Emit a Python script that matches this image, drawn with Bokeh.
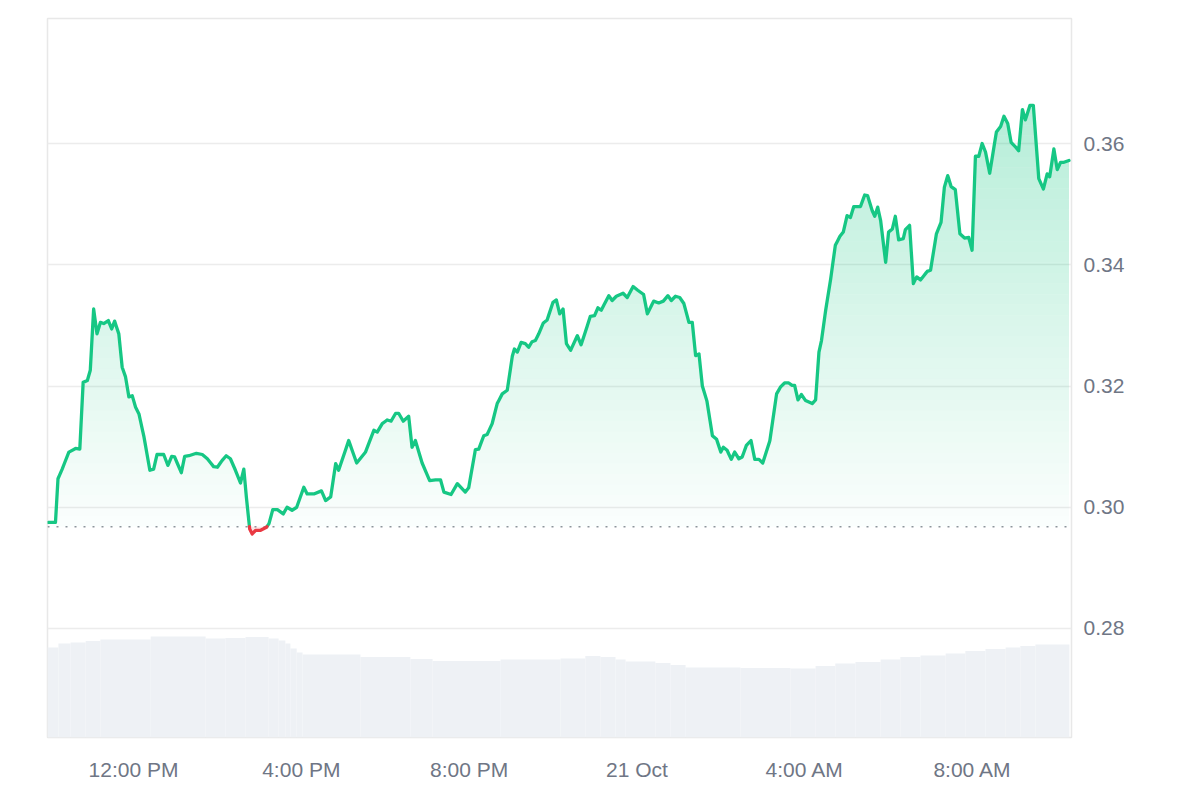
import numpy as np
from bokeh.plotting import figure
from bokeh.models import Range1d, FixedTicker, Span, CustomJSTickFormatter, NumeralTickFormatter
from bokeh.embed import file_html
from bokeh.resources import INLINE

# ---------------- data ----------------
# hours since 20 Oct 00:00
hours = [
    9.97, 10.14, 10.20, 10.30, 10.46, 10.62, 10.72, 10.80, 10.90, 10.97,
    11.05, 11.13, 11.21, 11.29, 11.40, 11.48, 11.55, 11.65, 11.73, 11.81,
    11.89, 11.97, 12.05, 12.13, 12.25, 12.39, 12.48, 12.56, 12.72, 12.82,
    12.91, 12.98, 13.14, 13.22, 13.32, 13.50, 13.64, 13.76, 13.91, 14.00,
    14.11, 14.21, 14.31, 14.43, 14.55, 14.63, 14.69, 14.77, 14.83, 14.91,
    15.03, 15.17, 15.23, 15.32, 15.43, 15.57, 15.66, 15.78, 15.89, 16.06,
    16.14, 16.30, 16.48, 16.58, 16.70, 16.82, 16.89, 17.13, 17.32, 17.53,
    17.73, 17.81, 17.93, 18.05, 18.14, 18.25, 18.32, 18.43, 18.56, 18.64,
    18.72, 18.88, 19.06, 19.20, 19.32, 19.40, 19.57, 19.72, 19.91, 19.99,
    20.15, 20.23, 20.35, 20.43, 20.55, 20.67, 20.79, 20.91, 21.03, 21.08,
    21.15, 21.24, 21.34, 21.42, 21.50, 21.58, 21.66, 21.77, 21.86, 22.00,
    22.08, 22.16, 22.24, 22.32, 22.42, 22.58, 22.67, 22.77, 22.89, 22.99,
    23.07, 23.15, 23.33, 23.41, 23.51, 23.67, 23.77, 23.91, 24.02, 24.16,
    24.25, 24.40, 24.52, 24.63, 24.74, 24.82, 24.92, 25.02, 25.12, 25.24,
    25.32, 25.40, 25.48, 25.56, 25.67, 25.80, 25.90, 26.00, 26.06, 26.15,
    26.25, 26.33, 26.43, 26.51, 26.61, 26.72, 26.81, 26.91, 27.00, 27.17,
    27.33, 27.42, 27.52, 27.62, 27.70, 27.76, 27.84, 27.92, 28.02, 28.18,
    28.26, 28.34, 28.40, 28.50, 28.62, 28.73, 28.84, 28.92, 29.01, 29.09,
    29.17, 29.33, 29.43, 29.50, 29.61, 29.67, 29.74, 29.81, 29.93, 30.00,
    30.09, 30.16, 30.24, 30.35, 30.40, 30.50, 30.59, 30.67, 30.76, 30.84,
    30.92, 31.00, 31.14, 31.25, 31.33, 31.41, 31.49, 31.59, 31.70, 31.81,
    31.91, 31.99, 32.07, 32.15, 32.23, 32.31, 32.41, 32.57, 32.67, 32.75,
    32.84, 32.92, 33.03, 33.10, 33.19, 33.26, 33.37, 33.45, 33.58, 33.69,
    33.78, 33.84, 33.94, 34.02, 34.10, 34.18, 34.30,
]

price = [
    0.2975, 0.2975, 0.3047, 0.3063, 0.3091, 0.3097, 0.3096, 0.3206, 0.3209, 0.3226,
    0.3327, 0.3286, 0.3305, 0.3303, 0.3308, 0.3294, 0.3307, 0.3286, 0.3231, 0.3215,
    0.3182, 0.3184, 0.3165, 0.3154, 0.3116, 0.3061, 0.3063, 0.3087, 0.3087, 0.3069,
    0.3084, 0.3083, 0.3057, 0.3084, 0.3085, 0.3089, 0.3087, 0.3080, 0.3067, 0.3066,
    0.3077, 0.3085, 0.3080, 0.3061, 0.3040, 0.3063, 0.3017, 0.2964, 0.2956, 0.2962,
    0.2962, 0.2967, 0.2973, 0.2996, 0.2996, 0.2989, 0.3000, 0.2995, 0.3000, 0.3033,
    0.3022, 0.3022, 0.3027, 0.3011, 0.3017, 0.3072, 0.3061, 0.3110, 0.3073, 0.3091,
    0.3127, 0.3124, 0.3138, 0.3144, 0.3142, 0.3155, 0.3155, 0.3142, 0.3150, 0.3099,
    0.3110, 0.3073, 0.3044, 0.3045, 0.3045, 0.3025, 0.3021, 0.3039, 0.3025, 0.3032,
    0.3095, 0.3096, 0.3118, 0.3120, 0.3138, 0.3171, 0.3187, 0.3193, 0.3249, 0.3261,
    0.3256, 0.3272, 0.3270, 0.3264, 0.3273, 0.3275, 0.3286, 0.3304, 0.3309, 0.3338,
    0.3342, 0.3319, 0.3327, 0.3270, 0.3259, 0.3283, 0.3268, 0.3289, 0.3315, 0.3316,
    0.3329, 0.3325, 0.3349, 0.3341, 0.3348, 0.3353, 0.3346, 0.3364, 0.3358, 0.3351,
    0.3319, 0.3340, 0.3337, 0.3340, 0.3349, 0.3341, 0.3348, 0.3346, 0.3336, 0.3305,
    0.3305, 0.3250, 0.3253, 0.3200, 0.3175, 0.3118, 0.3112, 0.3091, 0.3099, 0.3094,
    0.3079, 0.3091, 0.3080, 0.3083, 0.3102, 0.3110, 0.3079, 0.3079, 0.3073, 0.3110,
    0.3187, 0.3198, 0.3205, 0.3205, 0.3201, 0.3201, 0.3177, 0.3186, 0.3176, 0.3171,
    0.3177, 0.3256, 0.3275, 0.3325, 0.3377, 0.3432, 0.3447, 0.3454, 0.3481, 0.3478,
    0.3496, 0.3496, 0.3515, 0.3514, 0.3489, 0.3480, 0.3495, 0.3473, 0.3404, 0.3454,
    0.3459, 0.3480, 0.3441, 0.3443, 0.3458, 0.3465, 0.3369, 0.3380, 0.3375, 0.3382,
    0.3389, 0.3391, 0.3451, 0.3470, 0.3528, 0.3547, 0.3529, 0.3524, 0.3451, 0.3444,
    0.3445, 0.3424, 0.3579, 0.3579, 0.3600, 0.3586, 0.3551, 0.3619, 0.3628, 0.3645,
    0.3633, 0.3602, 0.3594, 0.3588, 0.3656, 0.3639, 0.3663, 0.3663, 0.3542, 0.3525,
    0.3550, 0.3545, 0.3591, 0.3557, 0.3569, 0.3569, 0.3572,
]

baseline_price = 0.2968   # opening price (dotted line)

# volume (relative units), step segments starting at these hours
vol_start = [9.95, 10.21, 10.50, 10.86, 11.21, 12.41, 13.72, 14.19, 14.67, 15.22,
             15.46, 15.62, 15.74, 15.89, 16.03, 17.41, 18.60, 19.13, 20.75, 22.18,
             22.77, 23.13, 23.49, 23.73, 24.44, 24.80, 25.16, 26.47, 27.66, 28.26,
             28.73, 29.21, 29.81, 30.28, 30.76, 31.36, 31.83, 32.31, 32.79, 33.14,
             33.50]
vol_value = [90, 94, 95, 96.5, 98, 101, 99, 99.5, 100.5, 99,
             97, 94, 89, 85, 83, 80.5, 78.5, 76.5, 78, 79,
             81.5, 80.5, 78, 76, 74.5, 72.5, 70, 69.5, 69, 71.5,
             74, 75.5, 78, 80.5, 82, 84, 86.5, 88.5, 90, 91.5,
             93]
vol_end = 34.31

tick_hours = [12, 16, 20, 24, 28, 32]
tick_labels = ["12:00 PM", "4:00 PM", "8:00 PM", "21 Oct", "4:00 AM", "8:00 AM"]
price_ticks = [0.28, 0.30, 0.32, 0.34, 0.36]

if len(hours) != len(price) or len(vol_start) != len(vol_value):
    raise ValueError("data length mismatch")

# ---------------- styling ----------------
GREEN = "#16c784"
RED = "#ea3943"
LABEL = "#6f7685"
FONT = "Liberation Sans"

p = figure(width=1200, height=800,
           x_range=Range1d(9.95, 34.36), y_range=Range1d(0.26202, 0.38062),
           y_axis_location="right", output_backend="svg", toolbar_location=None,
           min_border_left=47, min_border_right=129, min_border_top=18,
           min_border_bottom=63)
p.background_fill_color = "white"
p.border_fill_color = "white"
p.outline_line_color = "#e8e8e8"
p.outline_line_width = 1.5

# volume on its own hidden scale
p.extra_y_ranges = {"vol": Range1d(0, 719)}
p.quad(left=vol_start, right=vol_start[1:] + [vol_end], bottom=0, top=vol_value,
       y_range_name="vol", fill_color="#eef1f5", line_color=None)

# densify line with crossing points for gradient bands / colour split
xs = np.array(hours, dtype=float)
ys = np.array(price, dtype=float)
grad_top = 0.3665
N = 40
levels = np.linspace(baseline_price, grad_top, N + 1)
parts = [xs]
for lv in levels:
    d = ys - lv
    idx = np.where(d[:-1] * d[1:] < 0)[0]
    t = d[idx] / (d[idx] - d[idx + 1])
    parts.append(xs[idx] + t * (xs[idx + 1] - xs[idx]))
dx = np.unique(np.concatenate(parts))
dy = np.interp(dx, xs, ys)

for i in range(N):
    a, b = levels[i], levels[i + 1]
    mid = 0.5 * (a + b)
    alpha = 0.015 + 0.30 * (mid - baseline_price) / (grad_top - baseline_price)
    y2 = np.clip(dy, a, b)
    p.varea(x=dx, y1=np.full_like(dx, a), y2=y2, fill_color=GREEN, fill_alpha=alpha)

# red area below baseline
p.varea(x=dx, y1=np.minimum(dy, baseline_price), y2=np.full_like(dx, baseline_price),
        fill_color=RED, fill_alpha=0.12)

# dotted baseline
p.add_layout(Span(location=baseline_price, dimension="width", line_color="#8f949c",
                  line_width=1.5, line_dash="2 7", level="underlay"))

eps = 1e-12
g = np.where(dy >= baseline_price - eps, dy, np.nan)
r = np.where(dy <= baseline_price + eps, dy, np.nan)
p.line(dx, g, line_color=GREEN, line_width=3.3, line_join="round", line_cap="round")
p.line(dx, r, line_color=RED, line_width=3.3, line_join="round", line_cap="round")

# grid
p.xgrid.visible = False
p.ygrid.ticker = FixedTicker(ticks=price_ticks)
p.ygrid.grid_line_color = "#ececec"
p.ygrid.grid_line_width = 1.5

# axes
p.yaxis.ticker = FixedTicker(ticks=price_ticks)
p.yaxis.formatter = NumeralTickFormatter(format="0.00")
p.xaxis.ticker = FixedTicker(ticks=tick_hours)
p.xaxis.formatter = CustomJSTickFormatter(
    args=dict(tick_vals=tick_hours, tick_text=tick_labels),
    code="const i = tick_vals.indexOf(tick); return i >= 0 ? tick_text[i] : '';")
for ax in (p.xaxis[0], p.yaxis[0]):
    ax.axis_line_color = None
    ax.major_tick_line_color = None
    ax.minor_tick_line_color = None
    ax.major_tick_out = 0
    ax.major_tick_in = 0
    ax.major_label_text_font = FONT
    ax.major_label_text_font_size = "21px"
    ax.major_label_text_color = LABEL
p.xaxis.major_label_standoff = 20
p.yaxis.major_label_standoff = 12

open("out.html", "w").write(file_html(p, INLINE))
